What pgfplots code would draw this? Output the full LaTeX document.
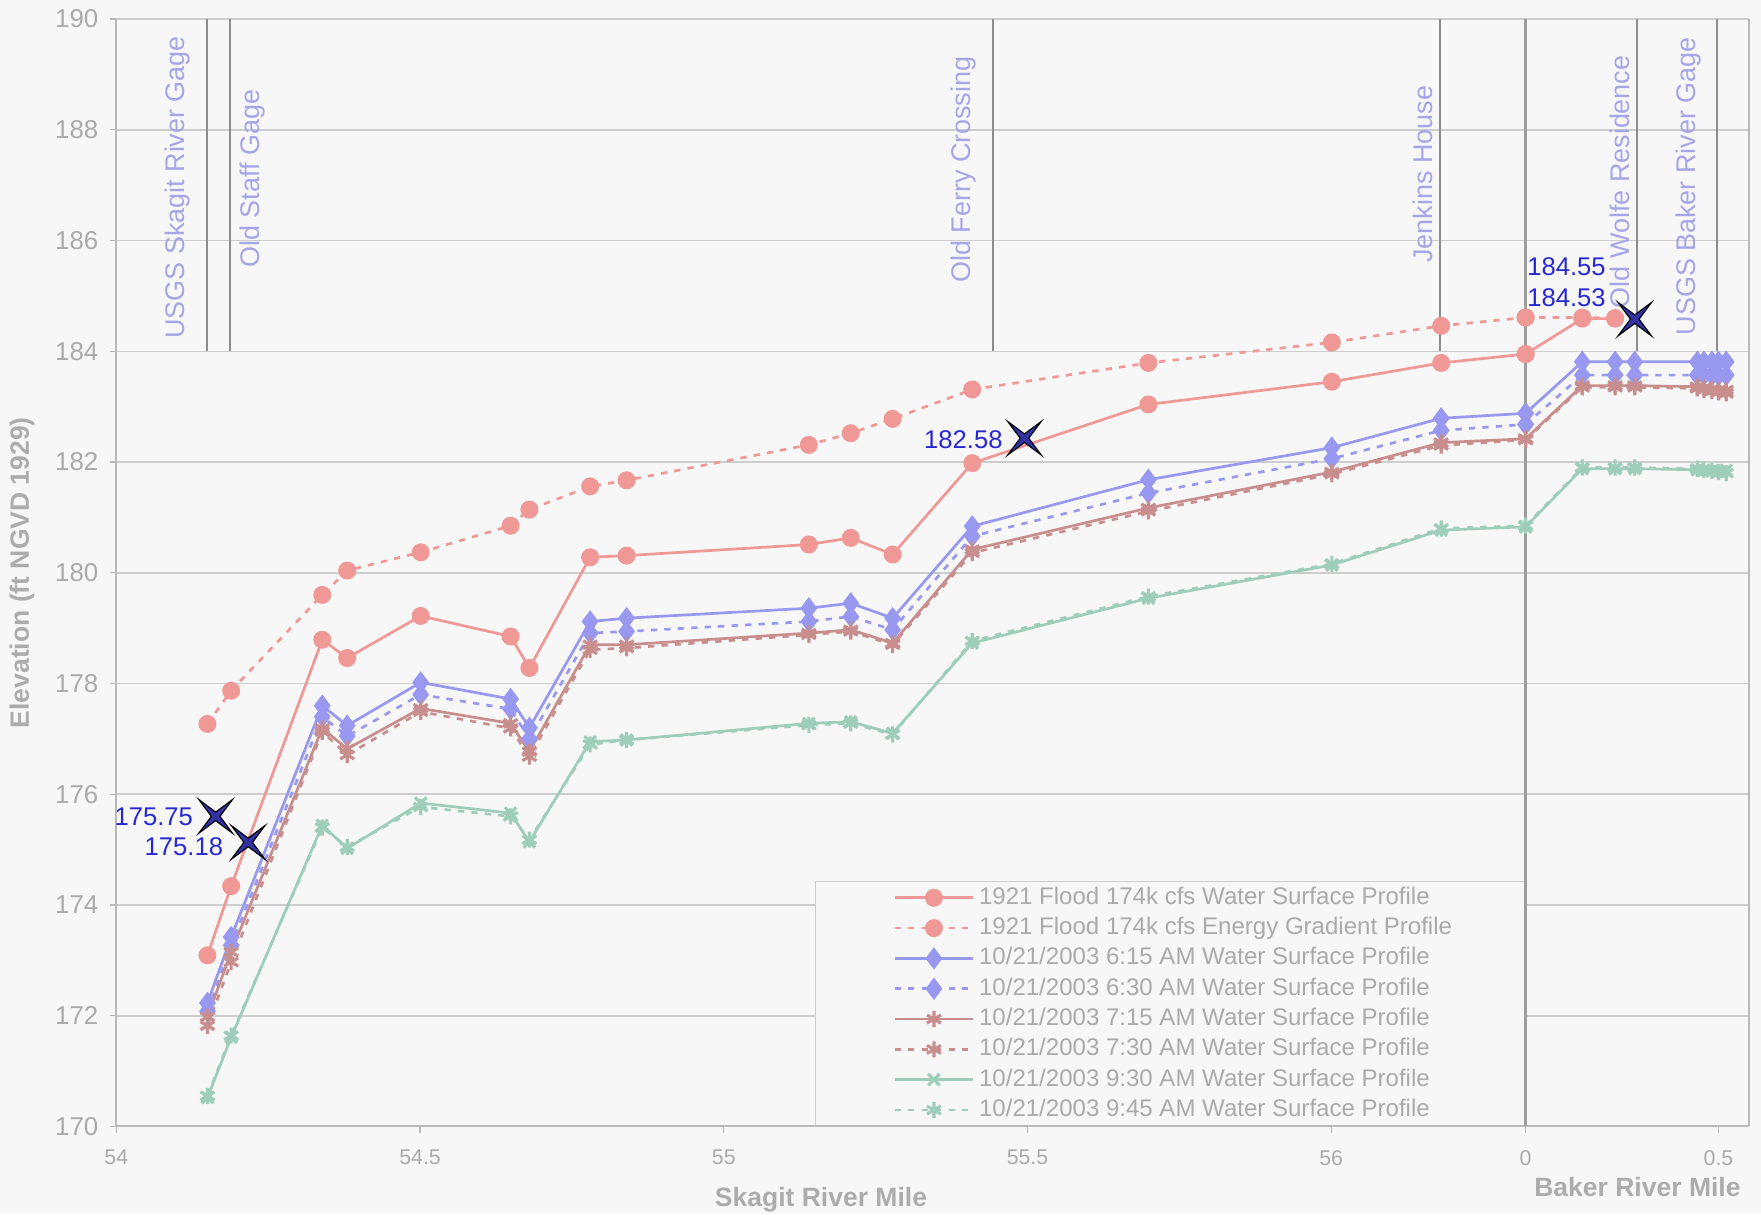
\documentclass[border=0pt]{standalone}
\usepackage{pgfplots}
\usepackage{pgfplotstable}
\pgfplotsset{compat=1.18}
\usepackage{fontspec}
\setmainfont{Liberation Sans}

\definecolor{bgc}{RGB}{247,247,247}
\definecolor{gridc}{RGB}{205,205,205}
\definecolor{axc}{RGB}{185,185,185}
\definecolor{tickc}{RGB}{170,170,170}
\definecolor{labc}{RGB}{172,172,172}
\definecolor{landc}{RGB}{140,140,140}
\definecolor{landtxt}{RGB}{165,165,232}
\definecolor{cpink}{RGB}{240,152,150}
\definecolor{cblue}{RGB}{152,152,240}
\definecolor{cbrown}{RGB}{200,142,142}
\definecolor{cgreen}{RGB}{158,205,186}
\definecolor{annc}{RGB}{40,40,210}
\definecolor{starfill}{RGB}{50,50,165}

\pgfdeclareplotmark{fourstar}{%
  \pgfpathmoveto{\pgfqpoint{0.707\pgfplotmarksize}{0.707\pgfplotmarksize}}%
  \pgfpathlineto{\pgfqpoint{0pt}{0.18\pgfplotmarksize}}%
  \pgfpathlineto{\pgfqpoint{-0.707\pgfplotmarksize}{0.707\pgfplotmarksize}}%
  \pgfpathlineto{\pgfqpoint{-0.18\pgfplotmarksize}{0pt}}%
  \pgfpathlineto{\pgfqpoint{-0.707\pgfplotmarksize}{-0.707\pgfplotmarksize}}%
  \pgfpathlineto{\pgfqpoint{0pt}{-0.18\pgfplotmarksize}}%
  \pgfpathlineto{\pgfqpoint{0.707\pgfplotmarksize}{-0.707\pgfplotmarksize}}%
  \pgfpathlineto{\pgfqpoint{0.18\pgfplotmarksize}{0pt}}%
  \pgfpathclose
  \pgfusepathqfillstroke}

% Skagit River section
\pgfplotstableread{
x       ws      eg      b615    b630    r715    r730    g930    g945
54.150  173.09  177.27  172.23  172.08  171.98  171.82  170.52  170.55
54.189  174.34  177.87  173.42  173.27  173.15  172.97  171.61  171.64
54.339  178.79  179.60  177.60  177.40  177.19  177.13  175.44  175.40
54.380  178.46  180.04  177.24  177.05  176.82  176.71  175.02  175.05
54.501  179.22  180.37  178.02  177.80  177.55  177.49  175.84  175.77
54.649  178.85  180.85  177.72  177.54  177.28  177.19  175.66  175.60
54.680  178.28  181.14  177.20  177.00  176.77  176.68  175.14  175.18
54.780  180.28  181.56  179.12  178.91  178.70  178.61  176.95  176.90
54.840  180.31  181.67  179.18  178.94  178.70  178.64  176.98  176.98
55.140  180.51  182.31  179.36  179.12  178.91  178.88  177.28  177.25
55.209  180.63  182.52  179.45  179.21  178.97  178.94  177.31  177.28
55.278  180.33  182.78  179.18  178.97  178.73  178.70  177.10  177.08
55.409  181.98  183.31  180.84  180.66  180.42  180.36  178.73  178.77
55.699  183.04  183.79  181.68  181.44  181.17  181.11  179.54  179.57
56.001  183.45  184.16  182.26  182.06  181.82  181.78  180.14  180.16
56.181  183.79  184.46  182.79  182.57  182.35  182.30  180.77  180.80
56.320  183.95  184.61  182.88  182.68  182.42  182.40  180.83  180.85
}\skagit

% Baker River section, 1921 profiles
\pgfplotstableread{
x      ws      eg
0.000  183.95  184.61
0.147  184.59  184.61
0.232  184.59  184.60
}\bakerA

% Baker River section, 2003 profiles
\pgfplotstableread{
x      b615    b630    r715    r730    g930    g945
0.000  182.88  182.68  182.42  182.40  180.83  180.85
0.147  183.81  183.57  183.38  183.35  181.88  181.90
0.232  183.81  183.57  183.38  183.35  181.88  181.90
0.283  183.81  183.57  183.38  183.35  181.88  181.90
0.445  183.81  183.57  183.36  183.33  181.86  181.88
0.462  183.81  183.57  183.34  183.30  181.85  181.86
0.483  183.81  183.57  183.32  183.28  181.84  181.84
0.500  183.81  183.57  183.30  183.26  181.83  181.82
0.520  183.81  183.57  183.30  183.24  181.85  181.80
}\bakerB

\tikzset{
  landtext/.style={rotate=90, landtxt, font=\fontsize{12}{14}\selectfont, inner sep=0pt},
  anntext/.style={anchor=east, annc, font=\fontsize{11.4}{13}\selectfont, inner sep=0pt},
}

\pgfplotsset{
  riv/.style={
    scale only axis, height=493pt,
    ymin=170, ymax=190, ytick={170,172,...,190},
    ymajorgrids, grid style={gridc, line width=0.7pt},
    axis line style={draw=none},
    tick align=outside, major tick length=3pt,
    tick style={axc, line width=0.6pt},
    xtick pos=left, ytick pos=left,
    xticklabel pos=left,
    every tick label/.append style={tickc},
    xticklabel style={font=\fontsize{9.5}{11}\selectfont, yshift=-4pt},
    yticklabel style={font=\fontsize{11.5}{13}\selectfont, xshift=-1.5pt},
    /pgf/number format/assume math mode=true,
    clip=false,
  },
  sws/.style={line width=1.2pt},
  sdash/.style={line width=1.2pt, dash pattern=on 2.8pt off 3.2pt},
  pk/.style={cpink, mark=*, mark size=3.4pt, mark options={solid}},
  bl/.style={cblue, mark=diamond*, mark size=4pt, mark options={solid}},
  br/.style={cbrown, mark=asterisk, mark size=3.6pt, mark options={solid, line width=1.4pt}},
  gx/.style={cgreen, mark=x, mark size=3.6pt, mark options={solid, line width=1.4pt}},
  gs/.style={cgreen, mark=asterisk, mark size=3.6pt, mark options={solid, line width=1.4pt}},
  starplot/.style={only marks, mark=fourstar, mark size=10.6pt,
     mark options={fill=starfill, draw=black, line width=0.5pt}, forget plot},
}

\begin{document}
\begin{tikzpicture}
\fill[bgc] (-51.8pt,-39pt) rectangle (732.2pt,501.5pt);

\begin{axis}[riv, name=main, at={(0pt,0pt)}, anchor=south west, width=627.4pt,
  xmin=54, xmax=56.32, xtick={54,54.5,55,55.5,56},
  legend cell align=left,
  legend image code/.code={\draw[mark repeat=2,mark phase=2,#1] plot coordinates {(0pt,0pt) (17.5pt,0pt) (35pt,0pt)};},
  legend style={at={(0.551,0.2206)}, anchor=north west, draw=none, fill=none,
     inner sep=0pt, row sep=0pt, column sep=1pt, text=tickc,
     font=\fontsize{10.7}{12}\selectfont,
     nodes={inner ysep=0pt, inner xsep=1pt, text height=9.6pt, text depth=3.9pt}},
]
% legend box
\draw[gridc, line width=0.7pt, fill=bgc] (rel axis cs:0.496,0) rectangle (rel axis cs:1,0.2211);
% axis lines
\draw[axc, line width=0.9pt] (rel axis cs:0,0) -- (rel axis cs:1,0);
\draw[axc, line width=0.9pt] (rel axis cs:0,0) -- (rel axis cs:0,1);
% landmark lines
\draw[landc, line width=0.9pt] (axis cs:54.1487,184) -- (axis cs:54.1487,190);
\draw[landc, line width=0.9pt] (axis cs:54.1877,184) -- (axis cs:54.1877,190);
\draw[landc, line width=0.9pt] (axis cs:55.443,184) -- (axis cs:55.443,190);
\draw[landc, line width=0.9pt] (axis cs:56.179,184) -- (axis cs:56.179,190);
\node[landtext] at (axis cs:54.1006,186.96) {USGS Skagit River Gage};
\node[landtext] at (axis cs:54.2249,187.12) {Old Staff Gage};
\node[landtext] at (axis cs:55.3950,187.28) {Old Ferry Crossing};
\node[landtext] at (axis cs:56.1510,187.20) {Jenkins House};

\addplot[sws, pk] table[x=x, y=ws] {\skagit};
\addlegendentry{1921 Flood 174k cfs Water Surface Profile}
\addplot[sdash, pk] table[x=x, y=eg] {\skagit};
\addlegendentry{1921 Flood 174k cfs Energy Gradient Profile}
\addplot[sws, bl] table[x=x, y=b615] {\skagit};
\addlegendentry{10/21/2003 6:15 AM Water Surface Profile}
\addplot[sdash, bl] table[x=x, y=b630] {\skagit};
\addlegendentry{10/21/2003 6:30 AM Water Surface Profile}
\addplot[sws, br] table[x=x, y=r715] {\skagit};
\addlegendentry{10/21/2003 7:15 AM Water Surface Profile}
\addplot[sdash, br] table[x=x, y=r730] {\skagit};
\addlegendentry{10/21/2003 7:30 AM Water Surface Profile}
\addplot[sws, gx] table[x=x, y=g930] {\skagit};
\addlegendentry{10/21/2003 9:30 AM Water Surface Profile}
\addplot[sdash, gs] table[x=x, y=g945] {\skagit};
\addlegendentry{10/21/2003 9:45 AM Water Surface Profile}

\addplot[starplot] coordinates {(54.1635,175.60) (54.2170,175.13) (55.4950,182.43)};
\node[anntext] at (axis cs:54.1268,175.60) {175.75};
\node[anntext] at (axis cs:54.1764,175.05) {175.18};
\node[anntext] at (axis cs:55.4596,182.41) {182.58};

\node[labc, font=\bfseries\fontsize{11.8}{14}\selectfont] at ([yshift=-32.5pt]rel axis cs:0.5,0) {Skagit River Mile};
\node[labc, font=\bfseries\fontsize{11.8}{14}\selectfont, rotate=90] at ([xshift=-42pt]rel axis cs:0,0.5) {Elevation (ft NGVD 1929)};
\end{axis}

\begin{axis}[riv, at={(627.4pt,0pt)}, anchor=south west, width=99.6pt,
  xmin=0, xmax=0.58, xtick={0,0.5}, yticklabels={}, ytick style={draw=none}]
\draw[axc, line width=0.9pt] (rel axis cs:0,0) -- (rel axis cs:1,0);
\draw[axc, line width=0.9pt] (rel axis cs:1,0) -- (rel axis cs:1,1);
\draw[landc!85!white, line width=1pt] (rel axis cs:0,0) -- (rel axis cs:0,1);
\draw[landc, line width=0.9pt] (axis cs:0.288,184) -- (axis cs:0.288,190);
\draw[landc, line width=0.9pt] (axis cs:0.495,184) -- (axis cs:0.495,190);
\node[landtext] at (axis cs:0.2436,187.06) {Old Wolfe Residence};
\node[landtext] at (axis cs:0.4213,186.98) {USGS Baker River Gage};

\addplot[sws, pk, forget plot] table[x=x, y=ws] {\bakerA};
\addplot[sdash, pk, forget plot] table[x=x, y=eg] {\bakerA};
\addplot[sws, bl, forget plot] table[x=x, y=b615] {\bakerB};
\addplot[sdash, bl, forget plot] table[x=x, y=b630] {\bakerB};
\addplot[sws, br, forget plot] table[x=x, y=r715] {\bakerB};
\addplot[sdash, br, forget plot] table[x=x, y=r730] {\bakerB};
\addplot[sws, gx, forget plot] table[x=x, y=g930] {\bakerB};
\addplot[sdash, gs, forget plot] table[x=x, y=g945] {\bakerB};

\addplot[starplot] coordinates {(0.283,184.58)};
\node[anntext] at (axis cs:0.2086,185.52) {184.55};
\node[anntext] at (axis cs:0.2086,184.97) {184.53};

\node[labc, font=\bfseries\fontsize{11.8}{14}\selectfont] at ([yshift=-27pt]rel axis cs:0.5,0) {Baker River Mile};
\end{axis}

\pgfresetboundingbox
\useasboundingbox (-51.8pt,-39pt) rectangle (732.2pt,501.5pt);
\end{tikzpicture}
\end{document}
